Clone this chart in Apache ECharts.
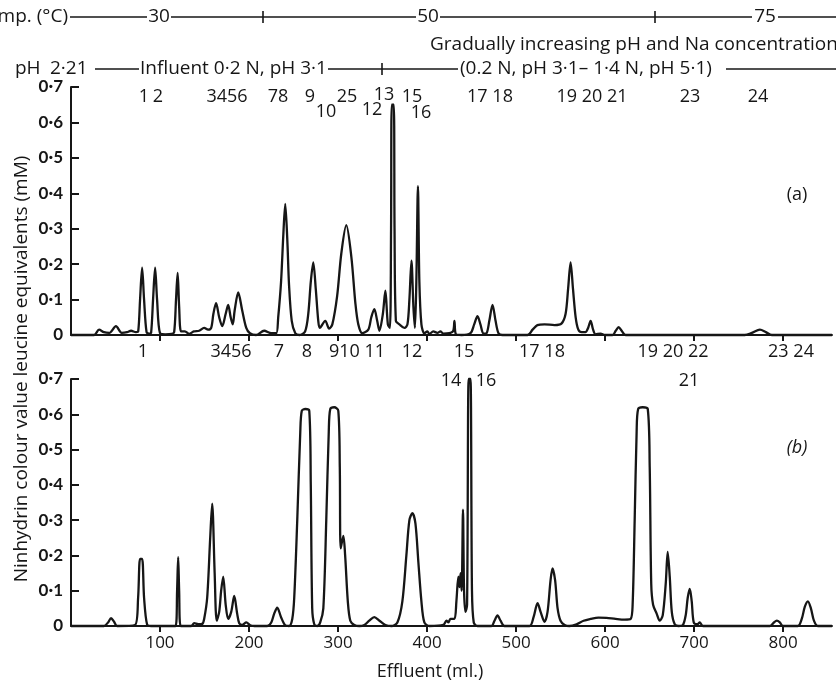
<!DOCTYPE html>
<html>
<head>
<meta charset="utf-8">
<script src="https://cdn.jsdelivr.net/npm/echarts@6/dist/echarts.min.js"></script>
<style>html,body{margin:0;padding:0;background:#fff}#c{width:836px;height:686px}</style>
</head>
<body>
<div id="c"></div>
<script>
// Effluent (ml) tick values and y tick labels
const xTicks = [100, 200, 300, 400, 500, 600, 700, 800];
const yTickLabels = ['0', '0·1', '0·2', '0·3', '0·4', '0·5', '0·6', '0·7'];

// Panel (a): [effluent ml, leucine equivalents mM]
const traceA = [
[0,0],[26,0],[31.5,0.015],[37,0.008],[43,0.006],[50.5,0.025],[57,0.006],[63,0.008],[67.5,0.012],[73,0.008],[75.5,0.01],
[77.6,0.1],[79.9,0.19],[82.1,0.1],[84.9,0.008],[88,0.004],[90,0.006],[92.2,0.1],[94.5,0.19],[96.7,0.1],[100,0.005],[106,0.002],[113,0.003],
[115.9,0.008],[118,0.1],[119.8,0.175],[121.5,0.08],[123.7,0.01],[128,0.01],[132.7,0.003],[138,0.01],[144,0.012],[149.6,0.02],[154,0.015],
[157.5,0.02],[160,0.06],[163,0.09],[166.5,0.05],[169.9,0.025],[173.8,0.06],[176.6,0.085],[179.4,0.05],[181.7,0.03],[183.9,0.07],[187.9,0.12],
[192.3,0.07],[196.9,0.02],[201,0.005],[208,0],[217,0.012],[225,0.005],[230.6,0.005],[232.8,0.05],[236,0.15],[238.5,0.28],[240.7,0.37],
[243,0.27],[245,0.14],[248,0.04],[252,0.005],[256.5,0],[263,0.01],[266.6,0.06],[269.4,0.15],[272.2,0.205],[275,0.13],[277.8,0.04],
[279.5,0.02],[285.7,0.04],[290,0.018],[293.6,0.03],[299,0.11],[303.7,0.23],[309.3,0.31],[315,0.22],[319.5,0.09],[322.8,0.03],[327.3,0.005],
[334,0.015],[337.4,0.05],[340.8,0.073],[344,0.04],[346.5,0.012],[350.4,0.06],[353.2,0.125],[356,0.03],[358.3,0.02],[359.6,0.3],[360.4,0.65],
[362.6,0.65],[363.5,0.3],[365,0.04],[369,0.03],[374.6,0.02],[378,0.03],[380.2,0.1],[382.5,0.21],[384.7,0.08],[386.4,0.02],[388,0.15],
[389.8,0.42],[391.4,0.15],[393.7,0.03],[397,0.005],[400.4,0.01],[402.7,0.003],[407,0.01],[411.7,0.006],[415,0.01],[418.4,0.004],[429,0.01],
[430.8,0.04],[432.5,0.002],[438.7,0],[448.8,0.005],[453,0.03],[456.7,0.053],[460,0.03],[463.4,0.004],[466.8,0.005],[470,0.04],[473.6,0.085],
[477,0.04],[480.3,0.005],[484.8,0],[512.9,0],[518.6,0.015],[524,0.028],[532,0.03],[543.3,0.028],[551,0.032],[555.7,0.06],[558.5,0.13],
[561.3,0.205],[564,0.13],[567,0.05],[570,0.015],[573.7,0.008],[578,0.008],[581,0.02],[583.8,0.04],[586.6,0.015],[589.4,0.002],[595,0.004],
[599.6,0],[608.5,0],[612,0.012],[615.3,0.022],[618.7,0.012],[623,0],[757,0],[765,0.006],[774,0.015],[780.7,0.008],[787.4,0],[855,0]
];

// Panel (b): [effluent ml, leucine equivalents mM]
const traceB = [
[0,0],[37,0],[41.6,0.01],[45,0.022],[48.4,0.012],[51.7,0],[72,0.003],[75.4,0.08],[77.6,0.19],[79.9,0.19],[82.1,0.08],[85.5,0.004],[90,0],
[117.5,0],[119.2,0.1],[120.4,0.195],[121.5,0.1],[123.2,0],[135,0],[138.4,0.008],[142.9,0.005],[147.4,0.006],[149.6,0.02],[153,0.08],
[156.4,0.25],[158.6,0.347],[161.4,0.15],[163.7,0.015],[166.5,0.04],[168.7,0.1],[171,0.14],[173.8,0.06],[176.6,0.02],[180,0.04],[183.4,0.085],
[186.7,0.035],[189,0.008],[192.3,0.003],[197,0.01],[201.3,0.002],[206,0],[220.5,0],[225,0.01],[228.3,0.035],[231.7,0.052],[236,0.025],
[240.7,0.002],[245,0],[248.6,0.02],[250.8,0.08],[254.2,0.3],[257.6,0.55],[259.3,0.61],[263.2,0.615],[267.7,0.61],[269.4,0.4],[271,0.05],
[273.3,0.005],[276.7,0],[280,0.01],[283.5,0.05],[286.8,0.3],[289.6,0.55],[291.3,0.615],[295.8,0.62],[300.3,0.61],[302,0.45],[303,0.22],
[306,0.255],[308,0.2],[311,0.07],[313.8,0.015],[318.3,0.003],[324,0],[329.6,0.003],[335,0.015],[340.8,0.025],[346.5,0.015],[353.2,0.003],
[360,0],[366.7,0.01],[372.3,0.07],[376.8,0.2],[380.2,0.3],[383.6,0.32],[387,0.29],[390.3,0.18],[393.7,0.07],[397,0.01],[402.7,0],
[418.4,0.003],[421.8,0.015],[424,0.01],[426.3,0.02],[430.8,0.02],[433,0.07],[435.2,0.14],[436.5,0.11],[437.7,0.15],[438.9,0.1],[440.4,0.33],
[441.6,0.1],[443.2,0.04],[445,0.06],[446.8,0.7],[448.8,0.7],[450.5,0.1],[452.5,0.01],[456.7,0],[472.4,0],[475.8,0.015],[479.2,0.03],
[482.6,0.015],[487,0],[515.2,0],[519.7,0.025],[524.2,0.065],[527.6,0.04],[532,0.012],[535.4,0.04],[538.8,0.13],[541,0.163],[543.9,0.13],
[546.7,0.05],[550,0.015],[554.6,0.003],[560,0],[568,0.005],[575.9,0.015],[583.6,0.02],[592.6,0.024],[601.6,0.023],[611.9,0.02],[622,0.018],
[628.8,0.02],[631,0.06],[633.3,0.3],[635.5,0.55],[637.2,0.615],[642.3,0.62],[648,0.615],[650.2,0.45],[651.9,0.12],[654,0.06],[658,0.035],
[661.4,0.015],[664.8,0.03],[668.2,0.12],[670.4,0.21],[672.7,0.14],[675,0.04],[678.3,0.005],[682.8,0],[687.3,0.002],[690.6,0.03],[692.9,0.08],
[695.2,0.105],[697.4,0.07],[699.7,0.01],[704,0.005],[706.4,0.01],[710,0],[785.2,0],[789.7,0.01],[793,0.015],[796.4,0.01],[799.8,0],
[816.6,0],[821,0.02],[824.5,0.055],[827.9,0.07],[831.3,0.05],[834.7,0.015],[839,0],[855,0]
];

const FONT = '"Open Sans", Lato, sans-serif';
const INK = '#161616';
const chart = echarts.init(document.getElementById('c'), null, {renderer: 'canvas'});

function txt(x, y, text, size, align, extra) {
  return Object.assign({
    type: 'text', x: x, y: y, silent: true,
    style: {text: text, fill: INK, font: (extra && extra.italic ? 'italic ' : '') + size + 'px ' + FONT,
      textAlign: align || 'center', textVerticalAlign: 'middle'}
  }, extra && extra.rotation !== undefined ? {rotation: extra.rotation} : {});
}
function hl(x1, x2, y) {
  return {type: 'line', silent: true, shape: {x1: x1, y1: y, x2: x2, y2: y}, style: {stroke: INK, lineWidth: 1.6}};
}
function vt(x, y) {
  return {type: 'line', silent: true, shape: {x1: x, y1: y - 6, x2: x, y2: y + 6}, style: {stroke: INK, lineWidth: 1.6}};
}

function xAxisCfg(grid, labels) {
  return {
    type: 'value', gridIndex: grid, min: 0, max: 855,
    axisLine: {lineStyle: {color: INK, width: 2}},
    axisTick: {show: true, customValues: xTicks, length: 6, inside: false, lineStyle: {color: INK, width: 2}},
    axisLabel: {show: labels, customValues: xTicks, color: INK, fontSize: 17, fontFamily: FONT, margin: 9},
    splitLine: {show: false}
  };
}
function yAxisCfg(grid) {
  return {
    type: 'value', gridIndex: grid, min: 0, max: 0.7, interval: 0.1,
    axisLine: {show: true, lineStyle: {color: INK, width: 2}},
    axisTick: {show: true, inside: true, length: 8, lineStyle: {color: INK, width: 2}},
    axisLabel: {color: INK, fontSize: 17, fontFamily: 'Lato, sans-serif', fontWeight: 'bold', margin: 8,
      formatter: v => yTickLabels[Math.round(v * 10)]},
    splitLine: {show: false}
  };
}

const option = {
  animation: false,
  backgroundColor: '#fff',
  grid: [
    {left: 71, right: 4, top: 87, height: 248},
    {left: 71, right: 4, top: 379, height: 247}
  ],
  xAxis: [xAxisCfg(0, false), xAxisCfg(1, true)],
  yAxis: [yAxisCfg(0), yAxisCfg(1)],
  series: [
    {type: 'line', xAxisIndex: 0, yAxisIndex: 0, data: traceA, showSymbol: false, smooth: 0.3, clip: false,
      lineStyle: {color: INK, width: 2.3}},
    {type: 'line', xAxisIndex: 1, yAxisIndex: 1, data: traceB, showSymbol: false, smooth: 0.3, clip: false,
      lineStyle: {color: INK, width: 2.3}}
  ],
  graphic: [
    // temperature row
    txt(68, 17, 'Temp. (°C)', 19, 'right'),
    hl(70, 147, 17), txt(159, 17, '30', 19), hl(171, 416, 17), vt(263, 17),
    txt(428, 17, '50', 19), hl(440, 752, 17), vt(655, 17), txt(765, 17, '75', 19), hl(778, 836, 17),
    // pH row
    txt(430, 45, 'Gradually increasing pH and Na concentration', 19, 'left'),
    txt(15, 69, 'pH', 19, 'left'), txt(50, 69, '2·21', 19, 'left'), hl(95, 139, 69),
    txt(140, 69, 'Influent 0·2 N, pH 3·1', 19, 'left'), hl(328, 458, 69), vt(382, 69),
    txt(460, 69, '(0.2 N, pH 3·1– 1·4 N, pH 5·1)', 19, 'left'), hl(726, 836, 69),
    // peak labels panel (a)
    txt(144, 97, '1', 18), txt(158, 97, '2', 18), txt(227, 97, '3456', 18), txt(278, 97, '78', 18),
    txt(310, 97, '9', 18), txt(347, 97, '25', 18), txt(384, 95, '13', 18), txt(412, 97, '15', 18),
    txt(490, 97, '17 18', 18), txt(592, 97, '19 20 21', 18), txt(690, 97, '23', 18), txt(758, 97, '24', 18),
    txt(326, 112, '10', 18), txt(372, 110, '12', 18), txt(421, 113, '16', 18),
    txt(797, 195, '(a)', 18, 'center'),
    // peak labels panel (b)
    txt(143, 352, '1', 18), txt(231, 352, '3456', 18), txt(279, 352, '7', 18), txt(307, 352, '8', 18),
    txt(357, 352, '910 11', 18), txt(412, 352, '12', 18), txt(464, 352, '15', 18), txt(542, 352, '17 18', 18),
    txt(673, 352, '19 20 22', 18), txt(791, 352, '23 24', 18),
    txt(451, 381, '14', 18), txt(486, 381, '16', 18), txt(689, 381, '21', 18),
    txt(797, 448, '(b)', 18, 'center', {italic: true}),
    // axis titles
    txt(22, 369, 'Ninhydrin colour value leucine equivalents (mM)', 19, 'center', {rotation: Math.PI / 2}),
    txt(430, 672, 'Effluent (ml.)', 18)
  ]
};
chart.setOption(option);
</script>
</body>
</html>
